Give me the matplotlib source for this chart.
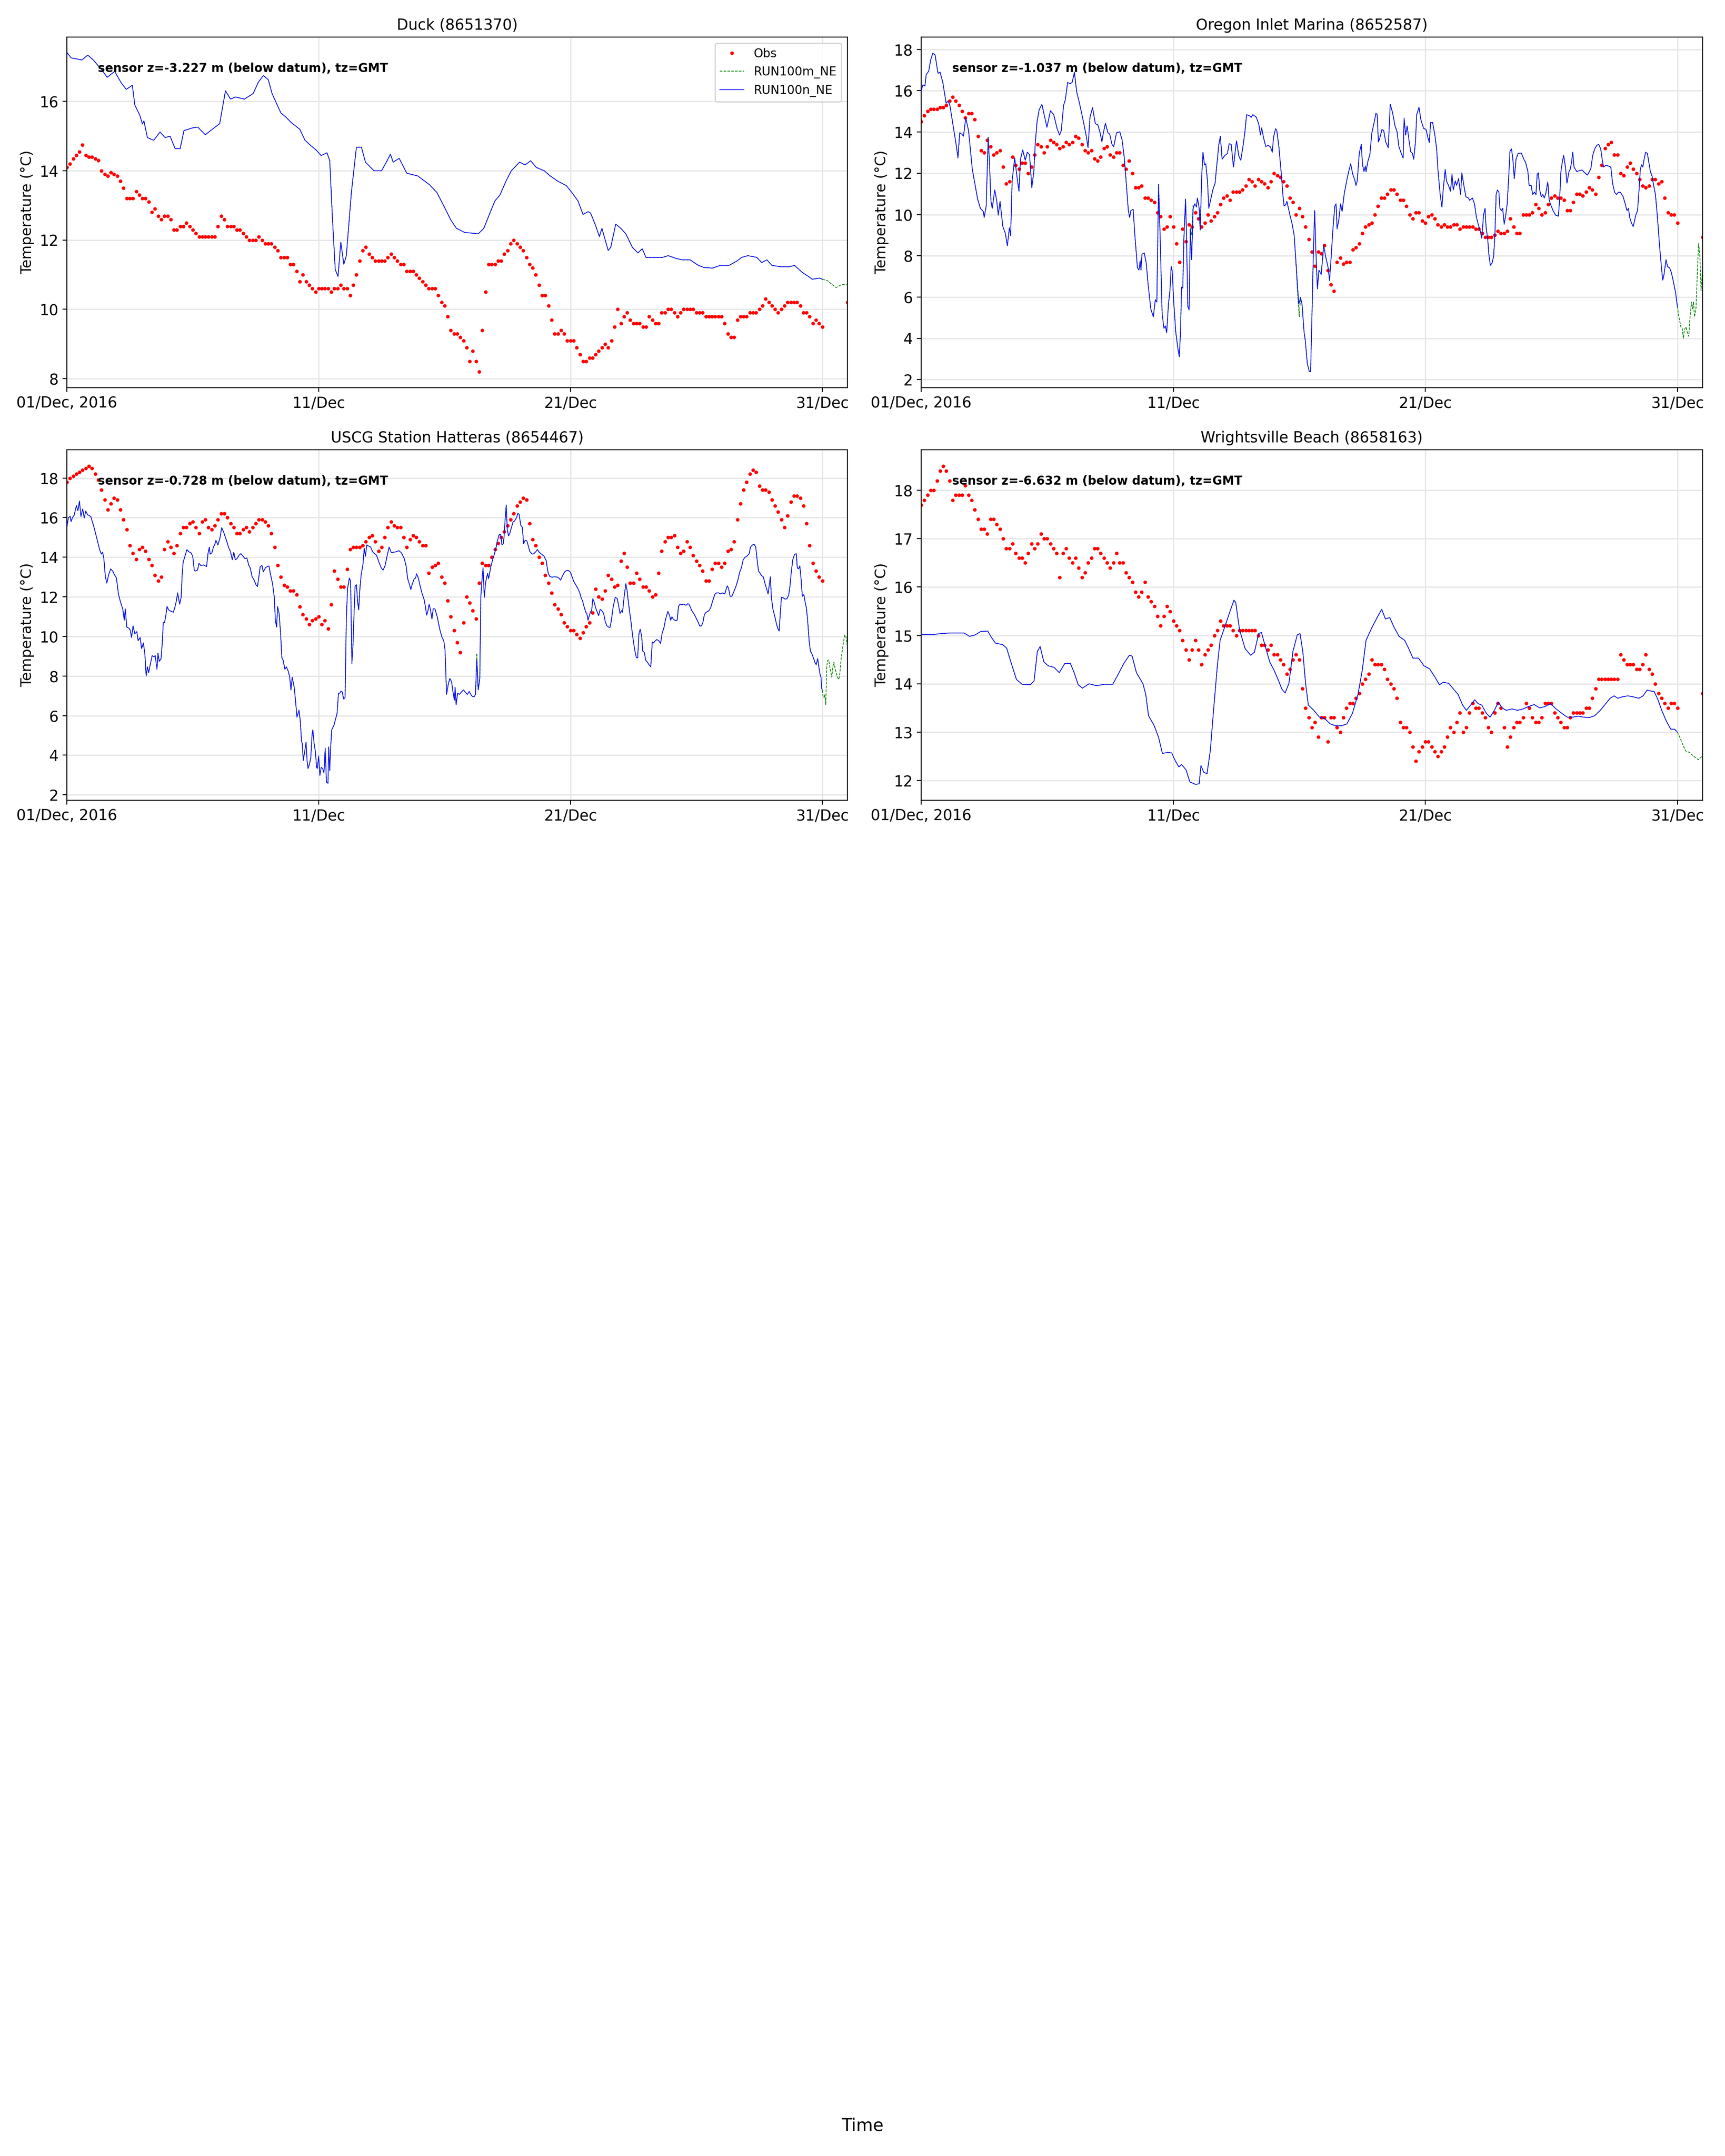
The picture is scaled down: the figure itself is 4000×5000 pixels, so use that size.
import numpy as np
import pandas as pd
import matplotlib
matplotlib.use("Agg")
import matplotlib.pyplot as plt

nan = np.nan
START = pd.Timestamp("2016-12-01 00:00")
END = pd.Timestamp("2017-01-01 00:00")

# ---------------------------------------------------------------- labels
stations = ["Duck (8651370)", "Oregon Inlet Marina (8652587)",
            "USCG Station Hatteras (8654467)", "Wrightsville Beach (8658163)"]
sensor_notes = ["sensor z=-3.227 m (below datum), tz=GMT",
                "sensor z=-1.037 m (below datum), tz=GMT",
                "sensor z=-0.728 m (below datum), tz=GMT",
                "sensor z=-6.632 m (below datum), tz=GMT"]
series_names = ["Obs", "RUN100m_NE", "RUN100n_NE"]
xtick_days = [0, 10, 20, 30]
xtick_labels = ["01/Dec, 2016", "11/Dec", "21/Dec", "31/Dec"]
y_label = "Temperature (°C)"
x_label = "Time"
ylims = [(7.74, 17.86), (1.61, 18.6), (1.72, 19.43), (11.59, 18.84)]

# ---------------------------------------------------------------- observations (3-hourly, one row per day)
duck_obs_rows = [
    [14.1, 14.2, 14.35, 14.45, 14.55, 14.75, 14.45, 14.4],
    [14.4, 14.35, 14.3, 14.0, 13.9, 13.85, 13.95, 13.9],
    [13.85, 13.7, 13.5, 13.2, 13.2, 13.2, 13.4, 13.3],
    [13.2, 13.2, 13.1, 12.8, 12.9, 12.7, 12.6, 12.7],
    [12.7, 12.6, 12.3, 12.3, 12.4, 12.4, 12.5, 12.4],
    [12.3, 12.2, 12.1, 12.1, 12.1, 12.1, 12.1, 12.1],
    [12.4, 12.7, 12.6, 12.4, 12.4, 12.4, 12.3, 12.3],
    [12.2, 12.1, 12.0, 12.0, 12.0, 12.1, 12.0, 11.9],
    [11.9, 11.9, 11.8, 11.7, 11.5, 11.5, 11.5, 11.3],
    [11.3, 11.1, 10.8, 11.0, 10.8, 10.7, 10.6, 10.5],
    [10.6, 10.6, 10.6, 10.6, 10.5, 10.6, 10.6, 10.7],
    [10.6, 10.6, 10.4, 10.7, 11.0, 11.4, 11.7, 11.8],
    [11.6, 11.5, 11.4, 11.4, 11.4, 11.4, 11.5, 11.6],
    [11.5, 11.4, 11.3, 11.3, 11.1, 11.1, 11.1, 11.0],
    [10.9, 10.8, 10.7, 10.6, 10.6, 10.6, 10.4, 10.2],
    [10.1, 9.8, 9.4, 9.3, 9.3, 9.2, 9.1, 8.9],
    [8.5, 8.8, 8.5, 8.2, 9.4, 10.5, 11.3, 11.3],
    [11.3, 11.4, 11.4, 11.6, 11.7, 11.9, 12.0, 11.9],
    [11.8, 11.7, 11.5, 11.3, 11.2, 11.0, 10.7, 10.4],
    [10.4, 10.1, 9.7, 9.3, 9.3, 9.4, 9.3, 9.1],
    [9.1, 9.1, 8.9, 8.7, 8.5, 8.5, 8.6, 8.6],
    [8.7, 8.8, 8.9, 9.0, 8.9, 9.1, 9.5, 10.0],
    [9.6, 9.8, 9.9, 9.7, 9.6, 9.6, 9.6, 9.5],
    [9.5, 9.8, 9.7, 9.6, 9.6, 9.9, 9.9, 10.0],
    [10.0, 9.9, 9.8, 9.9, 10.0, 10.0, 10.0, 10.0],
    [9.9, 9.9, 9.9, 9.8, 9.8, 9.8, 9.8, 9.8],
    [9.8, 9.6, 9.3, 9.2, 9.2, 9.7, 9.8, 9.8],
    [9.8, 9.9, 9.9, 9.9, 10.0, 10.1, 10.3, 10.2],
    [10.1, 10.0, 9.9, 10.0, 10.1, 10.2, 10.2, 10.2],
    [10.2, 10.1, 9.9, 9.9, 9.8, 9.6, 9.7, 9.6],
    [9.5, nan, nan, nan, nan, nan, nan, nan],
]
duck_obs_last = 10.2

oregon_obs_rows = [
    [14.5, 14.8, 15.0, 15.1, 15.1, 15.1, 15.2, 15.2],
    [15.3, 15.5, 15.7, 15.5, 15.3, 15.0, 14.7, 14.9],
    [14.9, 14.6, 13.8, 13.1, 13.0, 13.6, 13.3, 12.9],
    [13.0, 13.1, 12.3, 11.5, 11.6, 12.8, 12.4, 12.2],
    [12.5, 12.5, 12.0, 12.3, 12.9, 13.4, 13.3, 13.0],
    [13.3, 13.6, 13.5, 13.4, 13.2, 13.3, 13.5, 13.4],
    [13.5, 13.8, 13.7, 13.4, 13.1, 13.0, 13.1, 12.7],
    [12.6, 12.8, 13.2, 13.3, 12.9, 12.8, 13.0, 13.0],
    [12.4, 12.2, 12.6, 12.0, 11.3, 11.3, 11.4, 10.8],
    [10.8, 10.7, 10.6, 10.1, 9.9, 9.3, 9.4, 9.9],
    [9.4, 8.6, 7.7, 9.3, 8.7, 9.5, 9.4, 10.1],
    [9.8, 9.4, 9.6, 10.0, 9.7, 9.9, 10.1, 10.5],
    [10.8, 10.9, 10.7, 11.1, 11.1, 11.1, 11.2, 11.4],
    [11.7, 11.6, 11.4, 11.7, 11.6, 11.5, 11.3, 11.6],
    [12.0, 11.9, 11.8, 11.6, 11.4, 10.8, 10.6, 10.0],
    [10.3, 9.9, 9.4, 8.8, 8.2, 7.5, 8.2, 8.1],
    [8.5, 7.3, 6.6, 6.3, 7.7, 7.9, 7.6, 7.7],
    [7.7, 8.3, 8.4, 8.6, 9.1, 9.4, 9.5, 9.6],
    [10.0, 10.4, 10.8, 10.8, 11.0, 11.2, 11.2, 11.0],
    [10.7, 10.7, 10.4, 10.0, 9.8, 10.1, 10.1, 9.7],
    [9.6, 9.9, 10.0, 9.8, 9.5, 9.4, 9.5, 9.4],
    [9.4, 9.5, 9.5, 9.3, 9.4, 9.4, 9.4, 9.4],
    [9.3, 9.3, 9.1, 8.9, 8.9, 8.9, 9.0, 9.2],
    [9.1, 9.1, 9.2, 9.8, 9.4, 9.1, 9.1, 10.0],
    [10.0, 10.0, 10.1, 10.5, 10.3, 10.0, 10.1, 10.5],
    [10.8, 10.9, 10.8, 10.8, 10.7, 10.2, 10.2, 10.6],
    [11.0, 11.0, 10.9, 11.1, 11.3, 11.2, 11.0, 11.8],
    [12.4, 13.2, 13.4, 13.5, 12.9, 12.9, 12.0, 11.9],
    [12.3, 12.5, 12.2, 12.0, 11.7, 11.4, 11.3, 11.4],
    [11.7, 11.7, 11.5, 11.6, 10.8, 10.1, 10.0, 10.0],
    [9.6, nan, nan, nan, nan, nan, nan, nan],
]
oregon_obs_last = 8.9

hatteras_obs_rows = [
    [17.8, 18.0, 18.1, 18.2, 18.3, 18.4, 18.5, 18.6],
    [18.5, 18.2, 17.9, 17.4, 16.9, 16.4, 16.7, 17.0],
    [16.9, 16.4, 15.9, 15.4, 14.6, 14.2, 13.9, 14.4],
    [14.5, 14.3, 13.9, 13.6, 13.1, 12.8, 13.0, 14.4],
    [14.8, 14.5, 14.2, 14.6, 15.2, 15.5, 15.5, 15.7],
    [15.8, 15.5, 15.2, 15.8, 15.9, 15.5, 15.4, 15.6],
    [15.9, 16.2, 16.2, 16.0, 15.7, 15.5, 15.2, 15.2],
    [15.4, 15.5, 15.3, 15.5, 15.7, 15.9, 15.9, 15.8],
    [15.6, 15.2, 14.5, 13.6, 13.0, 12.6, 12.5, 12.3],
    [12.3, 12.1, 11.5, 11.1, 10.9, 10.6, 10.8, 10.9],
    [11.0, 10.6, 10.8, 10.4, 11.6, 13.3, 12.9, 12.5],
    [12.5, 13.4, 14.4, 14.5, 14.5, 14.5, 14.6, 14.8],
    [15.0, 15.1, 14.8, 14.3, 14.5, 15.0, 15.5, 15.8],
    [15.6, 15.5, 15.5, 15.0, 14.5, 14.9, 15.1, 15.0],
    [14.8, 14.6, 14.6, 13.2, 13.5, 13.6, 13.7, 13.0],
    [12.7, 11.8, 11.0, 10.3, 9.7, 9.2, 10.7, 12.0],
    [11.7, 11.3, 10.9, 12.7, 13.7, 13.6, 13.6, 14.0],
    [14.4, 14.7, 15.0, 15.3, 15.6, 15.9, 16.2, 16.6],
    [16.8, 17.0, 16.9, 15.7, 14.9, 14.6, 14.0, 13.7],
    [13.1, 12.7, 12.2, 11.6, 11.4, 11.1, 10.7, 10.5],
    [10.3, 10.3, 10.1, 9.9, 10.2, 10.5, 10.7, 11.2],
    [12.4, 12.0, 11.9, 12.3, 13.1, 12.9, 12.5, 12.6],
    [13.8, 14.2, 13.5, 12.7, 12.7, 13.2, 12.9, 12.5],
    [12.5, 12.3, 12.0, 12.1, 13.2, 14.3, 14.8, 15.0],
    [15.0, 15.1, 14.5, 14.2, 14.3, 14.8, 14.5, 14.1],
    [13.8, 13.6, 13.3, 12.8, 12.8, 13.4, 13.7, 13.7],
    [13.5, 13.7, 14.3, 14.4, 14.8, 15.9, 16.7, 17.4],
    [17.8, 18.2, 18.4, 18.3, 17.6, 17.4, 17.4, 17.3],
    [16.9, 16.6, 16.3, 15.9, 15.5, 16.1, 16.8, 17.1],
    [17.1, 17.0, 16.6, 15.7, 14.6, 13.7, 13.3, 13.0],
    [12.8, nan, nan, nan, nan, nan, nan, nan],
]
hatteras_obs_last = nan

wrightsville_obs_rows = [
    [17.7, 17.8, 17.9, 18.0, 18.0, 18.2, 18.4, 18.5],
    [18.4, 18.2, 17.8, 17.9, 17.9, 17.9, 18.1, 17.9],
    [17.8, 17.6, 17.4, 17.2, 17.2, 17.1, 17.4, 17.4],
    [17.3, 17.2, 17.0, 16.8, 16.8, 16.9, 16.7, 16.6],
    [16.6, 16.5, 16.7, 16.9, 16.8, 16.9, 17.1, 17.0],
    [17.0, 16.9, 16.8, 16.7, 16.2, 16.7, 16.8, 16.6],
    [16.5, 16.6, 16.4, 16.2, 16.3, 16.5, 16.6, 16.8],
    [16.8, 16.7, 16.6, 16.5, 16.4, 16.5, 16.7, 16.5],
    [16.5, 16.3, 16.2, 16.1, 15.9, 15.8, 15.9, 16.1],
    [15.8, 15.7, 15.6, 15.4, 15.2, 15.4, 15.6, 15.5],
    [15.3, 15.2, 15.1, 14.9, 14.7, 14.5, 14.7, 14.9],
    [14.7, 14.4, 14.6, 14.7, 14.8, 15.0, 15.1, 15.3],
    [15.2, 15.2, 15.2, 15.1, 15.0, 15.1, 15.1, 15.1],
    [15.1, 15.1, 15.1, 15.0, 14.8, 14.8, 14.7, 14.8],
    [14.6, 14.6, 14.5, 14.4, 14.2, 14.3, 14.5, 14.6],
    [14.5, 13.9, 13.5, 13.3, 13.1, 13.2, 12.9, 13.3],
    [13.3, 12.8, 13.3, 13.3, 13.1, 13.0, 13.3, 13.5],
    [13.6, 13.6, 13.7, 13.8, 14.0, 14.1, 14.2, 14.5],
    [14.4, 14.4, 14.4, 14.3, 14.1, 14.0, 13.9, 13.7],
    [13.2, 13.1, 13.1, 13.0, 12.7, 12.4, 12.6, 12.7],
    [12.8, 12.8, 12.7, 12.6, 12.5, 12.6, 12.7, 12.9],
    [13.1, 13.0, 13.2, 13.4, 13.0, 13.1, 13.4, 13.6],
    [13.5, 13.5, 13.4, 13.3, 13.1, 13.0, 13.4, 13.6],
    [13.5, 13.1, 12.7, 12.9, 13.1, 13.2, 13.2, 13.3],
    [13.6, 13.5, 13.3, 13.2, 13.2, 13.3, 13.6, 13.6],
    [13.6, 13.4, 13.3, 13.2, 13.1, 13.1, 13.3, 13.4],
    [13.4, 13.4, 13.4, 13.5, 13.5, 13.7, 13.9, 14.1],
    [14.1, 14.1, 14.1, 14.1, 14.1, 14.1, 14.6, 14.5],
    [14.4, 14.4, 14.4, 14.3, 14.3, 14.4, 14.6, 14.3],
    [14.2, 14.0, 13.8, 13.7, 13.6, 13.5, 13.6, 13.6],
    [13.5, nan, nan, nan, nan, nan, nan, nan],
]
wrightsville_obs_last = 13.8

# ---------------------------------------------------------------- RUN100n_NE (day offset from 1 Dec, temperature)
duck_run_n = [
    (0, 17.42), (0.17, 17.26), (0.6, 17.2), (0.83, 17.34), (1.05, 17.2), (1.4, 16.9), (1.6, 16.7), (1.9, 16.87),
    (2.15, 16.55), (2.36, 16.35), (2.6, 16.47), (2.7, 15.9), (2.9, 15.6), (3.0, 15.35), (3.06, 15.44), (3.2, 14.96),
    (3.45, 14.88), (3.7, 15.12), (3.9, 14.96), (4.1, 15.0), (4.3, 14.64), (4.5, 14.64), (4.65, 15.16), (5.0, 15.24),
    (5.2, 15.26), (5.5, 15.04), (5.85, 15.24), (6.07, 15.36), (6.3, 16.31), (6.5, 16.07), (6.7, 16.13), (7.05, 16.07),
    (7.4, 16.23), (7.6, 16.55), (7.8, 16.75), (8.0, 16.63), (8.15, 16.23), (8.5, 15.67), (8.7, 15.55), (8.9, 15.4),
    (9.25, 15.2), (9.46, 14.88), (9.7, 14.72), (9.9, 14.6), (10.1, 14.44), (10.33, 14.52), (10.44, 14.3), (10.55, 12.6),
    (10.66, 11.15), (10.77, 10.95), (10.88, 11.94), (11.0, 11.3), (11.1, 11.55), (11.3, 13.37), (11.5, 14.68),
    (11.7, 14.68), (11.86, 14.25), (12.2, 14.0), (12.5, 14.0), (12.74, 14.32), (12.85, 14.48), (12.96, 14.25),
    (13.2, 14.36), (13.5, 13.93), (13.94, 13.85), (14.4, 13.6), (14.7, 13.37), (15.03, 12.9), (15.25, 12.58),
    (15.47, 12.34), (15.8, 12.22), (16.1, 12.2), (16.34, 12.18), (16.56, 12.34), (16.78, 12.74), (17.0, 13.13),
    (17.2, 13.3), (17.44, 13.7), (17.65, 14.0), (17.98, 14.25), (18.2, 14.17), (18.42, 14.29), (18.64, 14.1),
    (18.96, 14.0), (19.2, 13.85), (19.5, 13.7), (19.84, 13.57), (20.06, 13.37), (20.3, 13.13), (20.5, 12.74),
    (20.7, 12.82), (20.8, 12.78), (21.0, 12.42), (21.15, 12.1), (21.25, 12.34), (21.5, 11.7), (21.6, 11.79),
    (21.8, 12.46), (22.0, 12.34), (22.2, 12.18), (22.46, 11.79), (22.68, 11.63), (22.85, 11.75), (23.0, 11.5),
    (23.33, 11.5), (23.66, 11.5), (23.88, 11.55), (24.2, 11.47), (24.43, 11.43), (24.75, 11.43), (25.08, 11.27),
    (25.3, 11.21), (25.63, 11.19), (25.96, 11.27), (26.3, 11.27), (26.6, 11.39), (26.8, 11.5), (27.05, 11.55),
    (27.4, 11.5), (27.6, 11.35), (27.8, 11.43), (28.0, 11.27), (28.36, 11.23), (28.7, 11.23), (28.9, 11.27),
    (29.2, 11.07), (29.45, 10.95), (29.6, 10.87), (29.9, 10.9), (30.0, 10.87),
]

oregon_run_n = [
    (0, 16.0), (0.07, 16.28), (0.15, 16.23), (0.2, 16.78), (0.3, 16.95), (0.38, 17.5), (0.46, 17.81), (0.55, 17.75),
    (0.67, 16.84), (0.75, 16.9), (0.86, 16.4), (0.99, 15.4), (1.07, 15.5), (1.14, 15.29), (1.3, 14.07), (1.4, 13.3),
    (1.46, 12.74), (1.53, 13.96), (1.61, 13.9), (1.68, 13.8), (1.77, 14.68), (1.88, 14.07), (2.03, 12.19),
    (2.24, 10.75), (2.35, 10.3), (2.47, 10.14), (2.5, 9.86), (2.58, 10.41), (2.66, 13.74), (2.71, 12.52),
    (2.77, 10.64), (2.82, 10.3), (2.92, 11.19), (3.0, 10.64), (3.06, 9.97), (3.13, 10.64), (3.24, 9.42), (3.34, 9.09),
    (3.42, 8.48), (3.5, 9.36), (3.55, 8.97), (3.61, 11.63), (3.71, 12.74), (3.8, 11.85), (3.88, 11.13), (3.94, 12.68),
    (4.03, 13.13), (4.13, 12.63), (4.21, 13.02), (4.3, 12.9), (4.39, 11.3), (4.47, 12.08), (4.53, 13.52),
    (4.6, 14.51), (4.68, 15.07), (4.79, 15.34), (4.88, 14.84), (4.99, 14.23), (5.13, 15.03), (5.26, 14.84),
    (5.39, 14.18), (5.49, 13.85), (5.56, 14.07), (5.65, 15.29), (5.72, 15.56), (5.81, 16.4), (5.91, 16.34),
    (5.99, 16.4), (6.08, 16.9), (6.17, 15.95), (6.28, 15.4), (6.38, 14.84), (6.49, 14.18), (6.56, 13.74),
    (6.62, 13.24), (6.7, 14.73), (6.8, 15.18), (6.91, 14.4), (7.01, 14.35), (7.1, 13.96), (7.17, 13.52),
    (7.22, 13.9), (7.31, 14.42), (7.41, 13.96), (7.48, 13.9), (7.57, 13.4), (7.64, 13.29), (7.75, 13.96),
    (7.88, 14.01), (7.97, 13.63), (8.06, 12.74), (8.13, 11.63), (8.22, 10.19), (8.27, 9.86), (8.32, 10.19),
    (8.41, 10.25), (8.48, 8.97), (8.58, 7.42), (8.64, 7.31), (8.69, 7.76), (8.72, 7.31), (8.76, 8.08), (8.85, 8.14),
    (8.93, 7.65), (9.0, 6.65), (9.11, 5.43), (9.21, 5.04), (9.29, 5.87), (9.35, 5.76), (9.42, 11.47), (9.48, 8.97),
    (9.56, 5.21), (9.63, 4.49), (9.69, 4.6), (9.74, 4.27), (9.81, 5.65), (9.87, 6.32), (9.92, 7.48), (9.96, 7.26),
    (10.02, 5.76), (10.1, 4.32), (10.18, 3.55), (10.24, 3.11), (10.29, 4.32), (10.33, 6.48), (10.38, 6.43),
    (10.42, 8.75), (10.49, 10.75), (10.52, 9.31), (10.58, 5.54), (10.63, 5.38), (10.68, 9.31), (10.73, 7.81),
    (10.79, 10.3), (10.86, 10.52), (10.92, 10.36), (10.96, 10.8), (11.03, 10.3), (11.07, 9.25), (11.13, 11.85),
    (11.18, 13.02), (11.24, 12.41), (11.29, 12.46), (11.36, 11.63), (11.41, 10.3), (11.49, 10.75), (11.57, 11.19),
    (11.66, 11.52), (11.73, 12.41), (11.81, 13.4), (11.87, 13.8), (11.94, 12.68), (12.04, 12.85), (12.15, 12.96),
    (12.22, 13.43), (12.3, 13.4), (12.39, 12.3), (12.45, 12.96), (12.51, 13.57), (12.6, 12.85), (12.68, 12.63),
    (12.78, 13.4), (12.85, 14.07), (12.91, 14.84), (13.02, 14.79), (13.09, 14.71), (13.16, 14.84), (13.3, 14.71),
    (13.4, 14.35), (13.46, 13.85), (13.51, 14.2), (13.58, 13.74), (13.67, 13.3), (13.77, 13.35), (13.86, 13.27),
    (13.93, 13.02), (13.98, 13.74), (14.06, 14.16), (14.11, 14.07), (14.19, 13.3), (14.28, 12.08), (14.35, 10.97),
    (14.4, 10.41), (14.46, 10.47), (14.51, 10.64), (14.56, 10.36), (14.63, 9.97), (14.72, 9.53), (14.8, 8.97),
    (14.87, 7.65), (14.93, 6.54), (14.98, 5.65), (15.05, 5.98), (15.11, 5.65), (15.19, 4.32), (15.24, 3.88),
    (15.32, 2.77), (15.4, 2.39), (15.45, 2.39), (15.5, 4.87), (15.55, 7.65), (15.61, 10.19), (15.66, 8.2),
    (15.72, 6.4), (15.78, 7.3), (15.87, 7.1), (15.97, 8.5), (16.04, 8.0), (16.15, 7.4), (16.2, 6.8), (16.25, 7.65),
    (16.33, 9.2), (16.41, 10.41), (16.46, 10.52), (16.5, 9.31), (16.57, 9.75), (16.64, 10.52), (16.7, 10.14),
    (16.78, 10.97), (16.88, 11.63), (16.96, 12.08), (17.04, 12.46), (17.12, 11.96), (17.2, 11.69), (17.25, 11.41),
    (17.3, 11.63), (17.38, 12.96), (17.46, 13.4), (17.51, 12.41), (17.57, 12.08), (17.62, 12.35), (17.65, 12.08),
    (17.72, 12.57), (17.8, 12.9), (17.88, 13.96), (17.96, 14.4), (18.04, 14.9), (18.09, 14.84), (18.14, 13.52),
    (18.19, 13.68), (18.28, 14.12), (18.35, 14.07), (18.43, 13.52), (18.53, 13.24), (18.61, 15.34), (18.7, 14.95),
    (18.8, 14.29), (18.88, 14.01), (18.95, 13.3), (19.03, 13.02), (19.12, 12.74), (19.16, 14.68), (19.22, 13.85),
    (19.28, 14.29), (19.35, 13.63), (19.42, 13.05), (19.49, 12.96), (19.54, 12.68), (19.61, 13.52), (19.66, 14.84),
    (19.75, 15.2), (19.82, 14.62), (19.93, 14.18), (20.03, 14.12), (20.1, 13.74), (20.16, 13.49), (20.21, 14.46),
    (20.29, 14.46), (20.38, 13.85), (20.45, 13.18), (20.5, 12.19), (20.59, 10.97), (20.66, 10.36), (20.71, 11.19),
    (20.79, 12.19), (20.84, 11.63), (20.92, 11.41), (21.0, 11.13), (21.06, 11.96), (21.11, 11.19), (21.19, 11.63),
    (21.24, 11.41), (21.32, 11.74), (21.4, 10.97), (21.45, 12.02), (21.53, 11.41), (21.61, 10.86), (21.71, 10.8),
    (21.76, 10.69), (21.87, 10.8), (21.95, 10.52), (22.03, 9.86), (22.1, 9.53), (22.18, 9.2), (22.24, 8.86),
    (22.31, 9.97), (22.37, 10.3), (22.41, 9.42), (22.48, 8.75), (22.52, 8.09), (22.58, 7.54), (22.65, 7.65),
    (22.71, 7.98), (22.76, 8.97), (22.81, 10.97), (22.86, 11.19), (22.92, 11.08), (22.96, 10.3), (23.02, 10.19),
    (23.07, 10.3), (23.13, 9.53), (23.19, 9.97), (23.25, 10.52), (23.32, 12.08), (23.36, 13.07), (23.42, 13.18),
    (23.47, 12.74), (23.53, 11.74), (23.6, 12.68), (23.68, 12.96), (23.81, 12.98), (23.91, 12.68), (23.98, 12.52),
    (24.07, 12.08), (24.12, 11.41), (24.2, 11.41), (24.26, 10.97), (24.33, 11.08), (24.39, 10.97), (24.44, 11.96),
    (24.49, 12.02), (24.54, 11.19), (24.6, 10.86), (24.66, 10.97), (24.72, 10.8), (24.78, 11.02), (24.86, 11.58),
    (24.91, 10.75), (24.96, 10.52), (25.07, 10.19), (25.17, 9.97), (25.28, 9.92), (25.33, 10.75), (25.38, 12.08),
    (25.44, 12.57), (25.49, 12.87), (25.56, 12.3), (25.62, 11.52), (25.7, 12.08), (25.75, 12.19), (25.8, 12.52),
    (25.85, 13.02), (25.9, 12.3), (26.01, 12.08), (26.12, 12.13), (26.22, 12.16), (26.33, 12.02), (26.43, 11.91),
    (26.51, 12.08), (26.57, 12.24), (26.64, 12.85), (26.72, 13.18), (26.8, 13.35), (26.88, 13.4), (26.96, 13.18),
    (27.01, 12.74), (27.07, 12.3), (27.17, 12.39), (27.27, 12.35), (27.36, 12.3), (27.43, 11.52), (27.51, 11.08),
    (27.59, 10.97), (27.66, 11.08), (27.74, 11.08), (27.85, 10.86), (27.93, 10.52), (28.0, 10.19), (28.06, 10.3),
    (28.11, 9.86), (28.18, 9.58), (28.25, 9.42), (28.29, 9.64), (28.35, 9.97), (28.42, 10.19), (28.48, 11.19),
    (28.53, 12.19), (28.58, 12.41), (28.63, 12.3), (28.69, 12.74), (28.74, 13.02), (28.81, 12.96), (28.87, 12.52),
    (28.93, 12.08), (29.0, 11.85), (29.05, 11.47), (29.13, 10.97), (29.21, 9.86), (29.29, 8.53), (29.37, 7.42),
    (29.42, 6.82), (29.47, 7.09), (29.55, 7.81), (29.61, 7.48), (29.69, 7.42), (29.76, 7.2), (29.84, 6.76),
    (29.93, 6.21), (30.0, 5.54),
]

hatteras_run_n = [
    (0, 15.49), (0.06, 16.0), (0.13, 16.06), (0.17, 15.8), (0.22, 16.0), (0.29, 16.12), (0.38, 16.61), (0.44, 16.35),
    (0.5, 16.84), (0.56, 16.06), (0.63, 16.44), (0.69, 15.98), (0.75, 16.33), (0.83, 16.14), (0.95, 16.06),
    (1.06, 15.6), (1.13, 15.26), (1.21, 14.85), (1.3, 14.39), (1.37, 14.16), (1.42, 14.25), (1.47, 13.93),
    (1.53, 13.01), (1.59, 12.69), (1.65, 13.07), (1.74, 13.41), (1.82, 13.3), (1.89, 13.12), (1.97, 12.95),
    (2.05, 12.14), (2.13, 11.74), (2.22, 11.39), (2.28, 10.82), (2.32, 11.39), (2.38, 10.47), (2.47, 10.41),
    (2.52, 10.3), (2.57, 9.95), (2.63, 10.53), (2.7, 10.13), (2.78, 10.24), (2.83, 9.78), (2.91, 9.95), (2.97, 9.38),
    (3.04, 9.67), (3.1, 9.09), (3.15, 8.0), (3.2, 8.46), (3.25, 8.17), (3.33, 8.69), (3.39, 9.03), (3.46, 8.97),
    (3.51, 9.03), (3.58, 8.34), (3.62, 9.15), (3.67, 8.74), (3.74, 8.86), (3.79, 9.67), (3.83, 10.7), (3.88, 10.7),
    (3.93, 11.05), (3.98, 11.51), (4.04, 11.34), (4.12, 11.28), (4.23, 11.22), (4.3, 11.51), (4.35, 11.8),
    (4.4, 12.2), (4.48, 11.63), (4.54, 11.97), (4.58, 13.12), (4.62, 13.76), (4.69, 14.05), (4.77, 14.39),
    (4.84, 14.28), (4.93, 14.22), (5.0, 14.05), (5.06, 13.35), (5.1, 13.3), (5.19, 13.35), (5.25, 13.7),
    (5.32, 13.58), (5.43, 13.61), (5.55, 13.53), (5.61, 14.22), (5.66, 14.51), (5.69, 14.16), (5.76, 14.22),
    (5.82, 14.51), (5.87, 14.62), (5.92, 14.85), (6.0, 14.62), (6.08, 14.97), (6.15, 15.49), (6.23, 15.26),
    (6.34, 14.85), (6.42, 14.51), (6.5, 14.28), (6.57, 13.87), (6.63, 14.25), (6.69, 13.87), (6.76, 13.93),
    (6.84, 14.1), (6.91, 14.18), (6.99, 14.07), (7.07, 13.93), (7.15, 13.96), (7.23, 13.58), (7.28, 13.47),
    (7.36, 13.01), (7.44, 12.84), (7.51, 12.61), (7.57, 12.52), (7.62, 12.95), (7.68, 13.53), (7.75, 13.58),
    (7.8, 13.26), (7.89, 13.47), (7.96, 13.53), (8.03, 13.56), (8.08, 13.18), (8.17, 12.66), (8.24, 11.97),
    (8.28, 10.82), (8.33, 10.47), (8.37, 11.51), (8.43, 11.16), (8.49, 10.13), (8.54, 8.92), (8.59, 8.8),
    (8.66, 8.34), (8.72, 8.46), (8.8, 8.22), (8.85, 7.94), (8.9, 7.3), (8.95, 7.94), (9.03, 7.42), (9.08, 6.78),
    (9.14, 5.92), (9.22, 6.27), (9.27, 5.75), (9.32, 4.71), (9.35, 4.59), (9.39, 3.73), (9.44, 4.13), (9.5, 4.65),
    (9.54, 3.73), (9.58, 3.33), (9.64, 3.56), (9.69, 3.9), (9.74, 5.05), (9.77, 5.28), (9.82, 4.59), (9.87, 4.19),
    (9.92, 3.38), (9.95, 3.33), (10.0, 3.96), (10.05, 2.98), (10.1, 3.38), (10.16, 3.33), (10.21, 3.1),
    (10.26, 4.36), (10.31, 2.63), (10.37, 2.58), (10.4, 4.42), (10.44, 3.21), (10.47, 4.25), (10.52, 5.28),
    (10.61, 5.52), (10.68, 5.86), (10.73, 6.09), (10.79, 7.13), (10.84, 7.13), (10.89, 7.24), (10.94, 7.19),
    (10.99, 6.84), (11.05, 6.9), (11.1, 10.93), (11.15, 12.43), (11.22, 12.95), (11.27, 12.78), (11.32, 8.63),
    (11.36, 9.44), (11.41, 11.28), (11.45, 12.55), (11.5, 12.61), (11.55, 11.74), (11.59, 11.34), (11.64, 12.43),
    (11.69, 13.12), (11.76, 13.64), (11.81, 14.45), (11.86, 14.05), (11.91, 14.62), (11.99, 14.56), (12.07, 14.51),
    (12.14, 14.28), (12.22, 14.18), (12.3, 14.1), (12.41, 13.7), (12.49, 13.45), (12.56, 13.35), (12.64, 13.58),
    (12.72, 14.07), (12.8, 14.51), (12.88, 14.25), (12.98, 14.25), (13.09, 14.28), (13.19, 14.33), (13.29, 14.22),
    (13.4, 13.93), (13.47, 13.58), (13.54, 12.9), (13.61, 12.61), (13.66, 12.37), (13.71, 12.61), (13.79, 12.9),
    (13.85, 12.95), (13.89, 13.16), (13.96, 12.95), (14.03, 12.55), (14.1, 12.2), (14.19, 11.86), (14.24, 11.51),
    (14.29, 11.07), (14.34, 11.3), (14.39, 11.63), (14.45, 11.28), (14.5, 10.88), (14.55, 11.39), (14.62, 11.39),
    (14.71, 10.99), (14.81, 10.36), (14.9, 9.95), (14.97, 9.78), (15.02, 9.32), (15.05, 8.17), (15.08, 7.07),
    (15.15, 7.59), (15.21, 7.88), (15.28, 7.71), (15.33, 7.24), (15.39, 6.78), (15.42, 7.42), (15.46, 6.55),
    (15.52, 7.13), (15.59, 7.07), (15.67, 7.19), (15.75, 7.3), (15.86, 7.13), (15.91, 7.07), (15.98, 7.22),
    (16.07, 7.01), (16.12, 6.96), (16.18, 6.96), (16.23, 7.07), (16.28, 8.8), (16.34, 7.3), (16.4, 7.88),
    (16.44, 11.97), (16.49, 12.9), (16.53, 13.47), (16.58, 11.97), (16.63, 12.72), (16.71, 13.18), (16.75, 12.92),
    (16.84, 13.53), (16.91, 13.87), (16.98, 14.16), (17.05, 14.51), (17.09, 14.79), (17.17, 15.14), (17.23, 15.14),
    (17.28, 14.62), (17.33, 14.68), (17.36, 14.97), (17.4, 15.78), (17.45, 16.64), (17.49, 15.43), (17.54, 15.08),
    (17.59, 15.2), (17.64, 15.43), (17.72, 15.78), (17.78, 15.83), (17.86, 16.0), (17.91, 16.21), (17.96, 16.18),
    (18.03, 15.6), (18.09, 15.52), (18.14, 14.68), (18.2, 14.85), (18.27, 14.83), (18.32, 14.6), (18.39, 14.28),
    (18.48, 14.16), (18.55, 14.18), (18.64, 14.3), (18.69, 14.39), (18.76, 14.25), (18.85, 14.16), (18.95, 14.05),
    (19.04, 13.82), (19.08, 13.47), (19.12, 13.18), (19.18, 13.03), (19.27, 12.99), (19.37, 13.01), (19.5, 12.99),
    (19.56, 12.92), (19.61, 12.84), (19.69, 13.07), (19.77, 13.26), (19.84, 13.33), (19.92, 13.33), (20.0, 13.24),
    (20.06, 13.03), (20.13, 12.78), (20.21, 12.61), (20.29, 12.43), (20.37, 12.2), (20.42, 11.97), (20.48, 11.8),
    (20.54, 11.51), (20.61, 11.22), (20.65, 11.16), (20.7, 10.82), (20.75, 11.05), (20.8, 11.26), (20.84, 11.28),
    (20.89, 11.91), (20.94, 11.74), (21.0, 11.45), (21.05, 11.28), (21.12, 11.05), (21.18, 11.37), (21.26, 11.28),
    (21.32, 11.16), (21.38, 10.76), (21.45, 10.53), (21.52, 10.47), (21.57, 10.45), (21.62, 10.76), (21.7, 11.51),
    (21.78, 11.97), (21.86, 11.91), (21.92, 11.51), (21.97, 11.16), (22.02, 11.3), (22.07, 11.22), (22.13, 11.97),
    (22.2, 12.66), (22.25, 12.32), (22.3, 11.74), (22.36, 11.16), (22.41, 10.7), (22.46, 10.13), (22.51, 9.67),
    (22.57, 9.2), (22.62, 8.92), (22.67, 8.92), (22.72, 10.13), (22.77, 10.36), (22.83, 10.01), (22.87, 9.26),
    (22.93, 9.2), (22.99, 8.8), (23.06, 8.69), (23.12, 8.57), (23.19, 8.46), (23.25, 9.72), (23.3, 9.67),
    (23.37, 9.78), (23.43, 9.84), (23.51, 9.78), (23.58, 9.64), (23.64, 10.15), (23.72, 10.47), (23.77, 10.82),
    (23.82, 11.05), (23.87, 11.26), (23.94, 11.05), (23.98, 10.82), (24.03, 10.99), (24.08, 10.88), (24.17, 10.8),
    (24.24, 10.82), (24.29, 11.51), (24.35, 11.63), (24.42, 11.6), (24.5, 11.63), (24.59, 11.57), (24.66, 11.65),
    (24.71, 11.63), (24.82, 11.3), (24.92, 11.11), (25.01, 10.88), (25.08, 10.7), (25.13, 10.53), (25.2, 10.53),
    (25.26, 10.7), (25.32, 11.11), (25.39, 11.22), (25.5, 11.3), (25.57, 11.45), (25.65, 11.8), (25.74, 12.14),
    (25.81, 12.2), (25.88, 12.2), (25.97, 12.14), (26.05, 12.2), (26.13, 12.14), (26.18, 12.37), (26.23, 12.55),
    (26.28, 12.43), (26.34, 12.03), (26.41, 12.03), (26.49, 12.26), (26.58, 12.55), (26.65, 12.84), (26.72, 13.24),
    (26.79, 13.47), (26.86, 13.87), (26.93, 13.99), (27.02, 14.07), (27.1, 14.18), (27.15, 14.51), (27.23, 14.62),
    (27.3, 14.65), (27.36, 14.51), (27.41, 13.93), (27.47, 13.3), (27.54, 13.18), (27.59, 13.07), (27.66, 13.01),
    (27.73, 12.66), (27.8, 12.37), (27.85, 12.14), (27.91, 12.72), (27.94, 13.01), (27.98, 11.97), (28.04, 11.39),
    (28.12, 10.99), (28.19, 10.59), (28.25, 10.36), (28.29, 10.27), (28.34, 11.28), (28.38, 11.97), (28.45, 11.95),
    (28.53, 11.88), (28.6, 11.91), (28.67, 12.09), (28.72, 12.55), (28.77, 13.24), (28.83, 13.87), (28.9, 14.14),
    (28.97, 14.18), (29.01, 13.47), (29.06, 13.41), (29.11, 13.56), (29.16, 12.9), (29.21, 12.03), (29.27, 12.11),
    (29.32, 11.74), (29.37, 11.45), (29.42, 10.82), (29.48, 9.78), (29.53, 9.26), (29.58, 9.15), (29.65, 8.92),
    (29.71, 8.69), (29.76, 8.57), (29.82, 8.88), (29.86, 8.51), (29.91, 8.11), (29.95, 7.94), (29.98, 7.36),
    (30.0, 7.3),
]

wrightsville_run_n = [
    (0, 15.02), (0.5, 15.02), (0.83, 15.04), (1.16, 15.05), (1.7, 15.05), (1.92, 14.98), (2.14, 15.01),
    (2.36, 15.08), (2.64, 15.09), (2.8, 14.95), (2.95, 14.84), (3.23, 14.81), (3.39, 14.74), (3.56, 14.45),
    (3.78, 14.09), (4.0, 13.99), (4.33, 13.98), (4.48, 14.06), (4.61, 14.67), (4.72, 14.77), (4.87, 14.45),
    (5.05, 14.37), (5.27, 14.34), (5.48, 14.23), (5.7, 14.42), (5.92, 14.42), (6.07, 14.23), (6.23, 13.98),
    (6.4, 13.91), (6.66, 14.0), (6.95, 13.96), (7.28, 13.99), (7.6, 13.99), (7.82, 14.2), (8.04, 14.42),
    (8.26, 14.59), (8.37, 14.57), (8.54, 14.23), (8.8, 14.0), (8.91, 13.78), (9.02, 13.34), (9.24, 13.14),
    (9.42, 12.89), (9.57, 12.56), (9.79, 12.58), (9.94, 12.57), (10.07, 12.42), (10.22, 12.28), (10.33, 12.33),
    (10.51, 12.22), (10.66, 11.97), (10.88, 11.92), (11.03, 11.93), (11.1, 12.31), (11.21, 12.17), (11.34, 12.14),
    (11.47, 12.61), (11.6, 13.45), (11.75, 14.37), (11.86, 14.9), (12.08, 15.23), (12.26, 15.51), (12.41, 15.73),
    (12.48, 15.68), (12.63, 15.12), (12.85, 14.73), (13.07, 14.59), (13.22, 14.65), (13.39, 15.04), (13.5, 15.06),
    (13.66, 14.76), (13.83, 14.45), (14.0, 14.28), (14.16, 14.09), (14.31, 13.89), (14.44, 13.81), (14.59, 14.01),
    (14.75, 14.67), (14.92, 15.01), (15.03, 15.04), (15.14, 14.67), (15.25, 14.01), (15.36, 13.56), (15.58, 13.45),
    (15.8, 13.31), (16.01, 13.28), (16.23, 13.17), (16.45, 13.13), (16.67, 13.13), (16.89, 13.17), (17.11, 13.39),
    (17.33, 13.78), (17.5, 14.28), (17.65, 14.9), (17.87, 15.15), (18.09, 15.37), (18.27, 15.54), (18.42, 15.34),
    (18.59, 15.37), (18.75, 15.18), (18.96, 14.98), (19.18, 14.9), (19.34, 14.73), (19.51, 14.53), (19.73, 14.53),
    (19.95, 14.37), (20.17, 14.31), (20.38, 14.14), (20.56, 13.98), (20.71, 14.03), (20.93, 14.01), (21.15, 13.87),
    (21.3, 13.78), (21.48, 13.56), (21.63, 13.45), (21.8, 13.56), (21.96, 13.67), (22.09, 13.59), (22.24, 13.56),
    (22.42, 13.39), (22.57, 13.31), (22.74, 13.45), (22.9, 13.62), (23.05, 13.5), (23.22, 13.45), (23.44, 13.48),
    (23.66, 13.45), (23.88, 13.48), (24.1, 13.53), (24.32, 13.57), (24.54, 13.5), (24.75, 13.53), (24.97, 13.59),
    (25.19, 13.48), (25.41, 13.39), (25.63, 13.31), (25.85, 13.31), (26.07, 13.33), (26.28, 13.31), (26.5, 13.3),
    (26.72, 13.34), (26.94, 13.45), (27.16, 13.59), (27.33, 13.7), (27.49, 13.75), (27.64, 13.7), (27.81, 13.73),
    (28.03, 13.75), (28.25, 13.73), (28.47, 13.7), (28.64, 13.75), (28.8, 13.87), (28.95, 13.85), (29.08, 13.84),
    (29.23, 13.67), (29.38, 13.45), (29.56, 13.23), (29.74, 13.06), (29.89, 13.06), (30.0, 13.0),
]

# ---------------------------------------------------------------- RUN100m_NE: where it shows beyond / apart from RUN100n_NE
duck_run_m_extra = [[(30.0, 10.87), (30.2, 10.83), (30.55, 10.63), (30.76, 10.71), (31.0, 10.73)]]
oregon_run_m_extra = [
    [(10.68, 9.31), (10.73, 9.0), (10.79, 10.5)],
    [(14.87, 7.65), (14.93, 6.3), (14.97, 5.5), (15.0, 5.05), (15.05, 5.98)],
    [(30.0, 5.54), (30.05, 5.1), (30.14, 4.55), (30.19, 4.49), (30.24, 4.0), (30.28, 4.44), (30.35, 4.55),
     (30.39, 4.32), (30.45, 4.1), (30.5, 4.99), (30.56, 5.76), (30.6, 5.43), (30.64, 5.76), (30.68, 5.04),
     (30.74, 5.49), (30.79, 7.09), (30.84, 8.59), (30.89, 8.09), (30.94, 6.32), (30.99, 7.2)],
]
hatteras_run_m_extra = [
    [(16.23, 7.07), (16.28, 9.15), (16.33, 7.3)],
    [(30.0, 7.3), (30.03, 7.01), (30.07, 6.9), (30.1, 7.07), (30.14, 6.55), (30.18, 8.51), (30.22, 8.8),
     (30.26, 8.8), (30.31, 8.4), (30.38, 7.94), (30.42, 8.46), (30.46, 8.69), (30.52, 8.34), (30.59, 8.0),
     (30.65, 7.82), (30.69, 8.0), (30.75, 8.86), (30.84, 9.67), (30.89, 10.07), (30.94, 10.01), (30.99, 9.55)],
]
wrightsville_run_m_extra = [
    [(30.0, 13.0), (30.1, 12.89), (30.21, 12.75), (30.33, 12.61), (30.48, 12.58), (30.65, 12.5),
     (30.83, 12.43), (30.98, 12.5)],
]

obs_rows = [duck_obs_rows, oregon_obs_rows, hatteras_obs_rows, wrightsville_obs_rows]
obs_last = [duck_obs_last, oregon_obs_last, hatteras_obs_last, wrightsville_obs_last]
run_n = [duck_run_n, oregon_run_n, hatteras_run_n, wrightsville_run_n]
run_m_extra = [duck_run_m_extra, oregon_run_m_extra, hatteras_run_m_extra, wrightsville_run_m_extra]


def to_times(days):
    return (START + pd.to_timedelta(np.asarray(days, dtype=float), unit="D")).to_numpy()


obs_times = pd.date_range(START, END, freq="3h").to_numpy()

# ---------------------------------------------------------------- figure
plt.rcParams["font.family"] = ["DejaVu Sans"]
plt.rcParams["font.size"] = 12
fig = plt.figure(figsize=(20, 25), dpi=200)

positions = [
    [0.03875, 0.8202, 0.4525, 0.1626],
    [0.5340, 0.8202, 0.4530, 0.1626],
    [0.03875, 0.6288, 0.4525, 0.1626],
    [0.5340, 0.6288, 0.4530, 0.1626],
]

for i in range(4):
    ax = fig.add_axes(positions[i])
    obs_vals = np.array([v for row in obs_rows[i] for v in row] + [obs_last[i]], dtype=float)
    n = min(len(obs_vals), len(obs_times))
    ax.plot(obs_times[:n], obs_vals[:n], linestyle="None", marker=".", color="red",
            markersize=4, label=series_names[0], zorder=2)

    days_n = [p[0] for p in run_n[i]]
    temps_n = [p[1] for p in run_n[i]]
    # RUN100m_NE follows RUN100n_NE where both exist, plus its own visible parts
    first = True
    m_days = days_n + [p[0] for p in run_m_extra[i][-1]][1:]
    m_temps = temps_n + [p[1] for p in run_m_extra[i][-1]][1:]
    ax.plot(to_times(m_days), m_temps, color="green", linestyle="--", linewidth=0.6,
            label=series_names[1], zorder=3)
    for seg in run_m_extra[i][:-1]:
        ax.plot(to_times([p[0] for p in seg]), [p[1] for p in seg], color="green",
                linestyle="--", linewidth=0.6, zorder=3)
    ax.plot(to_times(days_n), temps_n, color="blue", linestyle="-", linewidth=0.6,
            label=series_names[2], zorder=4)

    ax.set_xlim(START, END)
    ax.set_ylim(*ylims[i])
    ax.set_xticks(to_times(xtick_days))
    ax.set_xticklabels(xtick_labels)
    ax.tick_params(axis="both", labelsize=12.5)
    ax.grid(True, color="#e6e6e6", linewidth=1.0, zorder=0)
    ax.set_axisbelow(True)
    ax.set_title(stations[i], fontsize=12.5)
    ax.set_ylabel(y_label, fontsize=12)
    ax.text(0.04, 0.91, sensor_notes[i], transform=ax.transAxes, fontsize=10,
            fontweight="bold", ha="left", va="center", zorder=5)
    if i == 0:
        ax.legend(loc="upper right", fontsize=10)

fig.supxlabel(x_label, fontsize=14.4)
fig.savefig("out.png", dpi=200)
